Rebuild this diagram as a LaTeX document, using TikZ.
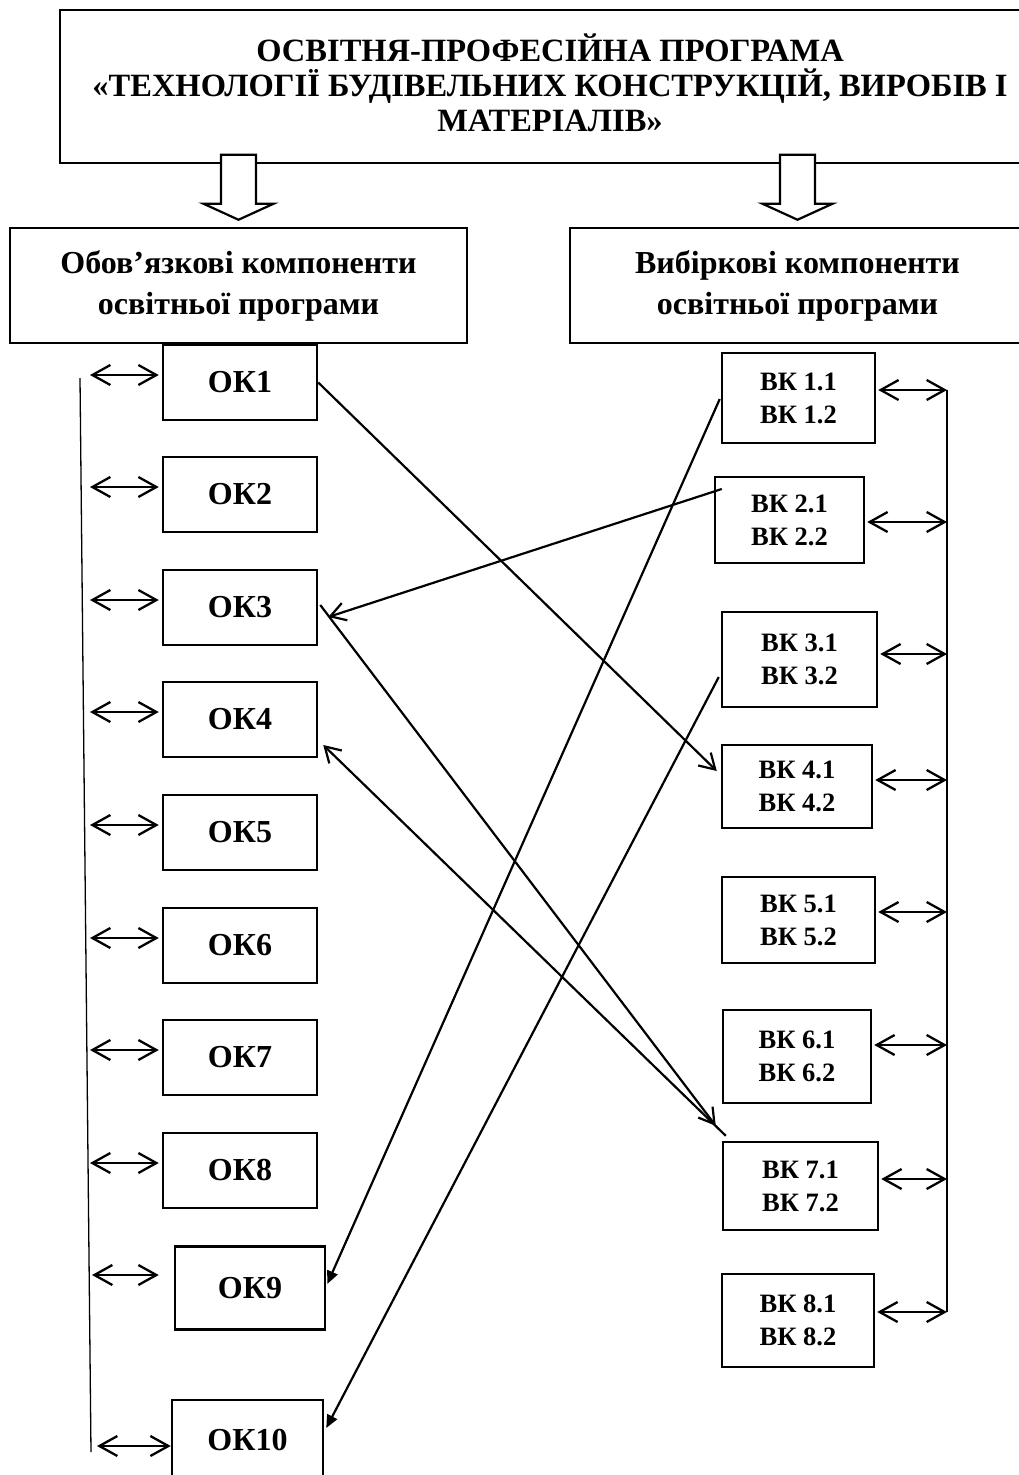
\documentclass[tikz,border=0pt]{standalone}
\usepackage{fontspec}
\setmainfont{Liberation Serif}
\usetikzlibrary{arrows.meta,calc}
\newcommand\tpfont{\fontsize{32.5}{35}\selectfont\bfseries}
\newcommand\hdfont{\fontsize{32}{41}\selectfont\bfseries}
\newcommand\okfont{\fontsize{32}{36}\selectfont\bfseries}
\newcommand\vkfont{\fontsize{26.5}{33}\selectfont\bfseries}
\begin{document}
\begin{tikzpicture}[x=1pt,y=-1pt,
  box/.style={draw,line width=2.5pt,align=center,inner sep=0pt},
  okbox/.style={box,minimum width=154pt,minimum height=75pt,font=\okfont},
  vkbox/.style={box,font=\vkfont},
  dbl/.style={line width=2.3pt,{Straight Barb[length=18pt,width=20pt]}-{Straight Barb[length=18pt,width=20pt]}},
  link/.style={line width=2.2pt,-{Straight Barb[length=15pt,width=18pt]}},
  flink/.style={line width=2.2pt,-{Triangle[length=13pt,width=11pt]}},
  hollow/.style={draw,line width=2.2pt,fill=white,line join=miter},
  rail/.style={line width=2.3pt},
  thinrail/.style={line width=1.3pt},
  plain/.style={inner sep=0pt,align=center}]
\useasboundingbox (0,0) rectangle (1019,1475);

% top box
\node[box,minimum width=980pt,minimum height=153pt] (top) at (550,86.5) {};
\node[plain,font=\tpfont] (toptext) at ($(top.center)+(0,-4)$)
  {ОСВІТНЯ-ПРОФЕСІЙНА ПРОГРАМА\\«ТЕХНОЛОГІЇ БУДІВЕЛЬНИХ КОНСТРУКЦІЙ, ВИРОБІВ І\\МАТЕРІАЛІВ»};

% header boxes
\node[box,minimum width=457pt,minimum height=115pt,font=\hdfont] (hdrL) at (238.5,285.5)
  {Обов’язкові компоненти\\освітньої програми};
\node[box,minimum width=455pt,minimum height=115pt,font=\hdfont] (hdrR) at (797.5,285.5)
  {Вибіркові компоненти\\освітньої програми};

% hollow block arrows
\foreach \n in {hdrL,hdrR}
  \draw[hollow] ($(\n.north)+(0,-7)$) -- ++(-35,-16) -- ++(17.5,0) -- ++(0,-49)
     -- ++(35,0) -- ++(0,49) -- ++(17.5,0) -- cycle;

% OK boxes
\node[okbox] (ok1) at (240,382.5) {ОК1};
\node[okbox] (ok2) at (240,494.5) {ОК2};
\node[okbox] (ok3) at (240,607.5) {ОК3};
\node[okbox] (ok4) at (240,719.5) {ОК4};
\node[okbox] (ok5) at (240,832.5) {ОК5};
\node[okbox] (ok6) at (240,945.5) {ОК6};
\node[okbox] (ok7) at (240,1057.5) {ОК7};
\node[okbox] (ok8) at (240,1170.5) {ОК8};
\node[okbox,minimum width=150pt,minimum height=83pt] (ok9) at (250,1288) {ОК9};
\node[okbox,minimum width=151pt,minimum height=80pt] (ok10) at (247.5,1440) {ОК10};

% VK boxes
\node[vkbox,minimum width=153pt,minimum height=90pt] (vk1) at (798.5,398) {ВК 1.1\\ВК 1.2};
\node[vkbox,minimum width=149pt,minimum height=86pt] (vk2) at (789.5,520) {ВК 2.1\\ВК 2.2};
\node[vkbox,minimum width=155pt,minimum height=95pt] (vk3) at (799.5,659.5) {ВК 3.1\\ВК 3.2};
\node[vkbox,minimum width=150pt,minimum height=83pt] (vk4) at (797,786.5) {ВК 4.1\\ВК 4.2};
\node[vkbox,minimum width=153pt,minimum height=86pt] (vk5) at (798.5,920) {ВК 5.1\\ВК 5.2};
\node[vkbox,minimum width=148pt,minimum height=93pt] (vk6) at (797,1056.5) {ВК 6.1\\ВК 6.2};
\node[vkbox,minimum width=155pt,minimum height=88pt] (vk7) at (800.5,1186) {ВК 7.1\\ВК 7.2};
\node[vkbox,minimum width=152pt,minimum height=93pt] (vk8) at (798,1320.5) {ВК 8.1\\ВК 8.2};

% left rail
\coordinate (lt) at (80,378);
\coordinate (lb) at (91,1452);
\draw[thinrail] (lt) -- (lb);
\coordinate (l1) at (90,375);
\coordinate (l2) at (90,487);
\coordinate (l3) at (90,600);
\coordinate (l4) at (90,712);
\coordinate (l5) at (90,825);
\coordinate (l6) at (90,938);
\coordinate (l7) at (90,1050);
\coordinate (l8) at (90,1163);
\coordinate (l9) at (92,1275);
\coordinate (l10) at (97,1446);
\foreach \i in {1,...,8}
  \draw[dbl,shorten >=3pt] (l\i) -- (ok\i.west |- l\i);
\draw[dbl] (l9) -- ($(ok9.west |- l9)+(-15,0)$);
\draw[dbl] (l10) -- (ok10.west |- l10);

% right rail
\coordinate (r1) at (947,390);
\coordinate (r2) at (947,522);
\coordinate (r3) at (947,654);
\coordinate (r4) at (947,780);
\coordinate (r5) at (947,912);
\coordinate (r6) at (947,1045);
\coordinate (r7) at (947,1179);
\coordinate (r8) at (947,1312);
\draw[rail] (r1) -- (r8);
\foreach \i in {1,...,8}
  \draw[dbl,shorten <=2pt] (vk\i.east |- r\i) -- (r\i);

% cross links
\draw[link] (ok1.east) -- ([shift={(-4,-15.5)}]vk4.west);
\draw[link] ([shift={(8,-31)}]vk2.west) -- ([shift={(10,9.5)}]ok3.east);
\draw[link] ([shift={(2,-2.5)}]ok3.east) -- ([shift={(-6,-15)}]vk7.north west);
\draw[link] ([shift={(4,-5)}]vk7.north west) -- ([shift={(5,25.5)}]ok4.east);
\draw[flink] ([shift={(-1,1)}]vk1.west) -- ([shift={(1,-4)}]ok9.east);
\draw[flink] ([shift={(-2,17.5)}]vk3.west) -- ([shift={(2,-12)}]ok10.east);
\end{tikzpicture}
\end{document}
